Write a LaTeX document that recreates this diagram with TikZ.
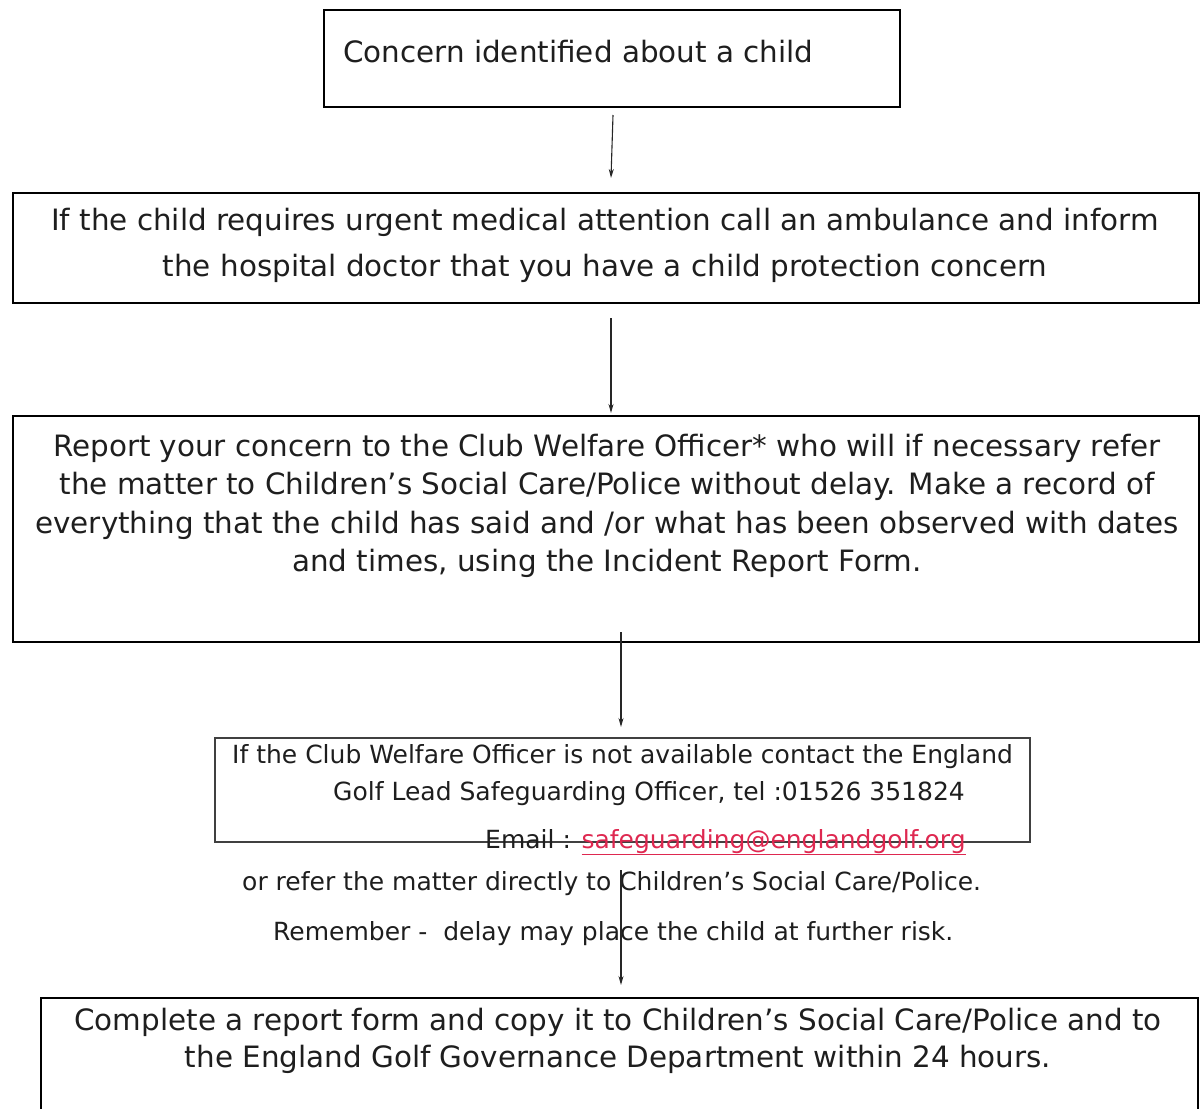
\documentclass[tikz,border=0pt]{standalone}
\usepackage{fontspec}
\setmainfont{DejaVu Sans}
\usetikzlibrary{arrows.meta}
\definecolor{ink}{RGB}{30,30,30}
\definecolor{mail}{RGB}{222,40,80}
\tikzset{
  box/.style={draw=black, line width=2pt, inner sep=0pt, anchor=north west},
  boxthin/.style={draw=black!75, line width=1.5pt, inner sep=0pt, anchor=north west},
  big/.style={font=\fontsize{29.4}{35}\selectfont, text=ink, inner sep=0pt, anchor=base},
  small/.style={font=\fontsize{25}{30}\selectfont, text=ink, inner sep=0pt, anchor=base west},
  flow/.style={draw=black!85, line width=1.1pt, -{Stealth[length=9pt,width=5pt]}},
}
\begin{document}
\begin{tikzpicture}[x=1pt,y=-1pt]
\useasboundingbox (0,0) rectangle (1201,1108);
% boxes
\node[box, minimum width=576pt, minimum height=97pt] (b1) at (323,9) {};
\node[box, minimum width=1186pt, minimum height=110pt] (b2) at (12,192) {};
\node[box, minimum width=1186pt, minimum height=226pt] (b3) at (12,415) {};
\node[boxthin, minimum width=815pt, minimum height=104pt] (b4) at (214,737) {};
\begin{scope}
\clip (0,0) rectangle (1201,1108);
\node[box, minimum width=1157pt, minimum height=160pt] (b5) at (40,997) {};
\end{scope}
% texts
\node[big, anchor=base west] (t1) at (343,63) {Concern identified about a child};
\node[big] (t2a) at (605,230) {If the child requires urgent medical attention call an ambulance and inform};
\node[big] (t2b) at (605,276) {the hospital doctor that you have a child protection concern};
\node[big] (t3a) at (607,456) {Report your concern to the Club Welfare Officer* who will if necessary refer};
\node[big] (t3b) at (607,494) {the matter to Children’s Social Care/Police without delay. Make a record of};
\node[big] (t3c) at (607,533) {everything that the child has said and /or what has been observed with dates};
\node[big] (t3d) at (607,571) {and times, using the Incident Report Form.};
\node[small] (t4a) at (232,763) {If the Club Welfare Officer is not available contact the England};
\node[small] (t4b) at (333,800) {Golf Lead Safeguarding Officer, tel :01526 351824};
\node[small] (t4c) at (485,848) {Email : {\color{mail}\underline{safeguarding@englandgolf.org}}};
\node[small] (t4d) at (242,890) {or refer the matter directly to Children’s Social Care/Police.};
\node[small] (t4e) at (273,940) {Remember -\ \ delay may place the child at further risk.};
\node[big] (t5a) at (618,1030) {Complete a report form and copy it to Children’s Social Care/Police and to};
\node[big] (t5b) at (618,1067) {the England Golf Governance Department within 24 hours.};
% arrow end points
\coordinate (a1s) at (613,115); \coordinate (a1e) at (611,178);
\coordinate (a2s) at (611,318); \coordinate (a2e) at (611,413);
\coordinate (a3s) at (621,632); \coordinate (a3e) at (621,727);
\coordinate (a4s) at (621,870); \coordinate (a4e) at (621,985);
\draw[flow] (a1s) -- (a1e);
\draw[flow] (a2s) -- (a2e);
\draw[flow] (a3s) -- (a3e);
\draw[flow] (a4s) -- (a4e);
\end{tikzpicture}
\end{document}
